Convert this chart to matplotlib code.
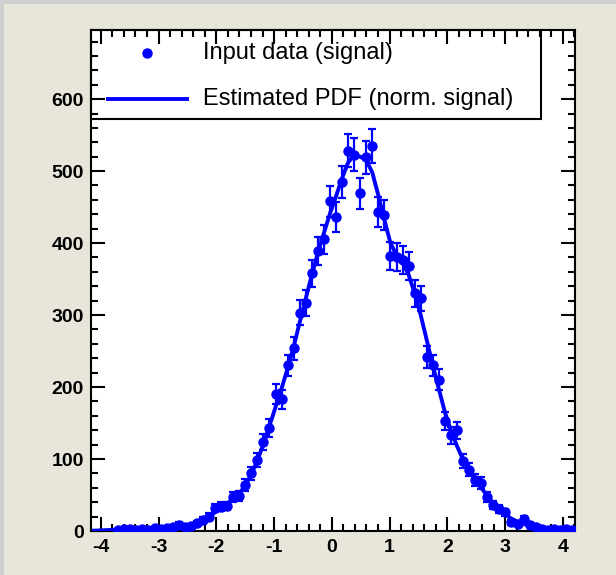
import numpy as np
import matplotlib.pyplot as plt
from matplotlib.patches import Rectangle
from matplotlib.lines import Line2D
from matplotlib.ticker import MultipleLocator

plt.rcParams['font.family'] = ['Liberation Sans', 'DejaVu Sans']
plt.rcParams['axes.unicode_minus'] = False

# histogram range / binning
x_min, x_max, n_bins = -4.17, 4.21, 80

# bin contents (input data, signal)
counts = [0, 0, 0, 0, 1, 3, 3, 2, 3, 2,
          4, 3, 4, 6, 9, 6, 7, 11, 15, 20,
          32, 34, 35, 47, 48, 64, 80, 99, 124, 143,
          190, 183, 230, 254, 303, 317, 358, 389, 405, 458,
          436, 485, 528, 523, 469, 519, 535, 443, 439, 382,
          381, 377, 368, 330, 323, 242, 230, 210, 153, 133,
          140, 97, 85, 71, 67, 47, 36, 30, 26, 12,
          10, 17, 8, 6, 3, 2, 3, 2, 3, 2]

# estimated PDF (normalised to signal) at the bin centres
pdf_vals = [0.5, 0.8, 1.2, 1.6, 2.0, 2.4, 2.7, 3.0, 3.2, 3.4,
            3.7, 4.0, 4.5, 5.3, 6.5, 7.5, 9.0, 11.5, 15, 20,
            26, 32, 38, 45, 52, 63, 79, 98, 121, 146,
            172, 198, 226, 256, 290, 323, 356, 386, 414, 441,
            465, 490, 512, 522, 520, 515, 498, 466, 432, 400,
            383, 373, 356, 330, 300, 265, 230, 197, 165, 139,
            118, 99, 84, 71, 60, 49, 38, 30, 23, 17,
            13, 10, 7, 5, 3.5, 2.7, 2.2, 1.8, 1.5, 1.2]

edges = np.linspace(x_min, x_max, n_bins + 1)
centers = 0.5 * (edges[:-1] + edges[1:])
counts = np.array(counts, dtype=float)
errs = np.sqrt(counts)
mask = counts > 0

W, H = 616, 575
fig = plt.figure(figsize=(W / 100, H / 100), dpi=100, facecolor='#e8e6da')
# bevel on top / left edge of the canvas
fig.patches.append(Rectangle((0, 1 - 4 / H), 1, 4 / H, transform=fig.transFigure,
                             fc='#cfcfcf', ec='none'))
fig.patches.append(Rectangle((0, 0), 4 / W, 1, transform=fig.transFigure,
                             fc='#cfcfcf', ec='none'))

ax = fig.add_axes([91 / W, 44 / H, 484 / W, 501 / H])
ax.set_facecolor('white')

ax.errorbar(centers[mask], counts[mask], yerr=errs[mask], fmt='o', color='blue',
            ms=6.5, elinewidth=1.6, capsize=3, capthick=1.6, zorder=3)
ax.plot(centers, pdf_vals, color='blue', lw=2.8, zorder=4)

ax.set_xlim(x_min, x_max)
ax.set_ylim(0, 696)
ax.xaxis.set_major_locator(MultipleLocator(1))
ax.xaxis.set_minor_locator(MultipleLocator(0.2))
ax.yaxis.set_major_locator(MultipleLocator(100))
ax.yaxis.set_minor_locator(MultipleLocator(20))
ax.tick_params(which='both', direction='in', top=True, right=True,
               width=1.5, colors='black')
ax.tick_params(which='major', length=10, labelsize=14)
ax.tick_params(which='minor', length=5)
ax.tick_params(axis='x', pad=6)
ax.tick_params(axis='y', pad=5)
for lab in ax.get_xticklabels() + ax.get_yticklabels():
    lab.set_fontweight('bold')
for sp in ax.spines.values():
    sp.set_linewidth(1.5)

# legend box (ROOT style, axis ticks drawn over it)
ax.add_patch(Rectangle((0, 0.822), 0.93, 0.178, transform=ax.transAxes,
                       fc='white', ec='black', lw=1.5, zorder=1, clip_on=False))
ax.add_line(Line2D([0.1157], [0.954], transform=ax.transAxes, marker='o',
                   ms=6.5, color='blue', ls='none', zorder=1.5))
ax.add_line(Line2D([0.035, 0.198], [0.862, 0.862], transform=ax.transAxes,
                   color='blue', lw=2.8, zorder=1.5))
ax.text(0.231, 0.954, 'Input data (signal)', transform=ax.transAxes,
        fontsize=17, va='center', ha='left', zorder=1.5)
ax.text(0.231, 0.862, 'Estimated PDF (norm. signal)', transform=ax.transAxes,
        fontsize=17, va='center', ha='left', zorder=1.5)

fig.savefig('out.png', dpi=100, facecolor=fig.get_facecolor())
